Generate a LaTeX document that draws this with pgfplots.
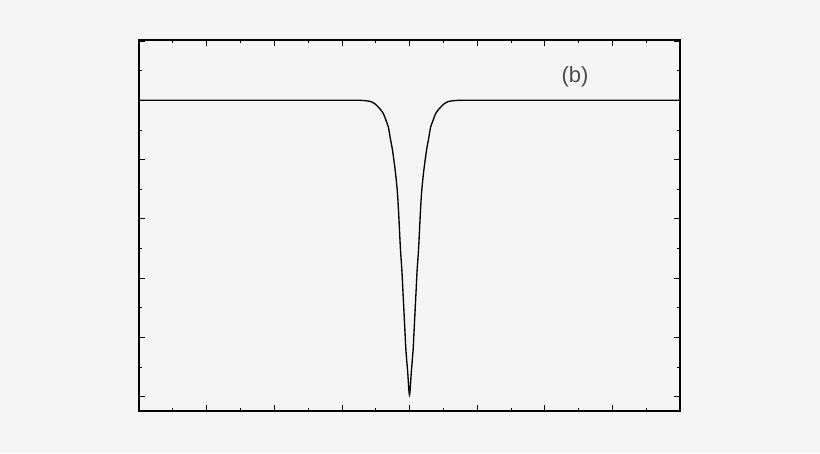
\documentclass[border=0pt]{standalone}
\usepackage{pgfplots}
\pgfplotsset{compat=1.18}
\usepackage{fontspec}
\setmainfont{Liberation Sans}
\definecolor{bgc}{HTML}{F5F5F5}

\begin{document}
\begin{tikzpicture}
% page background, 820x453 px at 0.75pt per px
\fill[bgc] (0,0) rectangle (615pt,339.75pt);
\begin{axis}[
    at={(104.25pt,31.5pt)},
    anchor=south west,
    scale only axis,
    width=405.75pt,
    height=278.25pt,
    xmin=0, xmax=8,
    ymin=-0.24, ymax=6.015,
    xtick={0,1,...,8},
    ytick={0,1,...,6},
    minor x tick num=1,
    minor y tick num=1,
    xticklabels={}, yticklabels={},
    tick align=inside,
    tick pos=both,
    major tick length=4.5pt,
    minor tick length=2.5pt,
    tick style={black, line width=0.5pt},
    axis line style={black, line width=0.8pt},
    axis background/.style={fill=bgc},
]
\addplot[black, line width=1pt, smooth, tension=0.5] coordinates {
    (0,5)(1,5)(2,5)(3,5)(3.25,5)(3.314,4.995)(3.418,4.98)(3.492,4.936)
    (3.566,4.85)(3.615,4.77)(3.655,4.65)(3.689,4.54)(3.714,4.37)
    (3.748,4.16)(3.788,3.82)(3.818,3.49)(3.837,3.15)(3.852,2.81)
    (3.867,2.47)(3.887,2.14)(3.902,1.80)(3.917,1.46)(3.932,1.12)
    (3.947,0.79)(3.973,0.42)(4,0.03)
    (4.027,0.42)(4.053,0.79)(4.068,1.12)(4.083,1.46)(4.098,1.80)
    (4.113,2.14)(4.133,2.47)(4.148,2.81)(4.163,3.15)(4.182,3.49)
    (4.212,3.82)(4.252,4.16)(4.286,4.37)(4.311,4.54)(4.345,4.65)
    (4.385,4.77)(4.434,4.85)(4.508,4.936)(4.582,4.98)(4.686,4.995)
    (4.75,5)(5,5)(6,5)(7,5)(8,5)
};
\draw[black, line width=1.6pt] (rel axis cs:0,0) -- (rel axis cs:1,0);
\node[font=\fontsize{16.5pt}{18pt}\selectfont, text=black!70] at (axis cs:6.447,5.39) {(b)};
\end{axis}
\end{tikzpicture}
\end{document}
